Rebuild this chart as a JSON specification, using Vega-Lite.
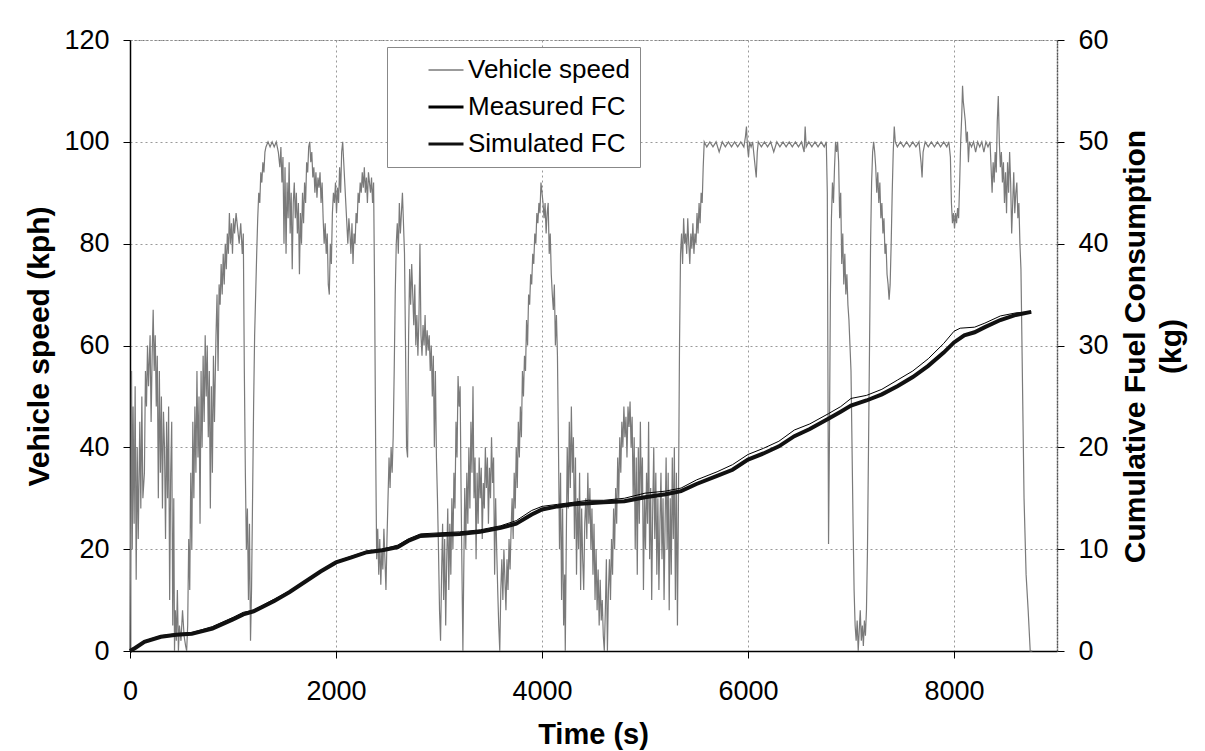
{
"$schema": "https://vega.github.io/schema/vega-lite/v6.json",
"width": 927, "height": 611,
"autosize": {"type": "none"},
"padding": {"left": 130, "top": 40, "right": 148, "bottom": 100},
"background": "white",
"config": {"font": "Liberation Sans", "view": {"stroke": "#777", "strokeDash": [2,2], "strokeWidth": 1}},
"datasets": {
"speed": [
{"t":0,"v":0},{"t":8,"v":30},{"t":15,"v":55},{"t":22,"v":20},{"t":30,"v":48},{"t":40,"v":25},{"t":50,"v":52},{"t":60,"v":14},{"t":70,"v":40},{"t":80,"v":22},{"t":95,"v":45},{"t":105,"v":28},{"t":115,"v":50},{"t":125,"v":30},{"t":140,"v":35},{"t":150,"v":55},{"t":160,"v":48},{"t":170,"v":60},{"t":180,"v":52},{"t":195,"v":62},{"t":205,"v":45},{"t":215,"v":58},{"t":225,"v":67},{"t":235,"v":55},{"t":245,"v":62},{"t":255,"v":48},{"t":265,"v":58},{"t":275,"v":30},{"t":285,"v":55},{"t":295,"v":35},{"t":305,"v":50},{"t":315,"v":28},{"t":325,"v":47},{"t":335,"v":40},{"t":345,"v":22},{"t":355,"v":45},{"t":365,"v":30},{"t":375,"v":48},{"t":385,"v":10},{"t":395,"v":35},{"t":405,"v":45},{"t":415,"v":5},{"t":425,"v":30},{"t":432,"v":0},{"t":440,"v":8},{"t":450,"v":2},{"t":460,"v":12},{"t":470,"v":0},{"t":480,"v":5},{"t":495,"v":2},{"t":510,"v":8},{"t":525,"v":3},{"t":540,"v":1},{"t":550,"v":0},{"t":560,"v":5},{"t":570,"v":22},{"t":580,"v":12},{"t":590,"v":35},{"t":600,"v":20},{"t":610,"v":45},{"t":620,"v":30},{"t":630,"v":48},{"t":640,"v":35},{"t":650,"v":55},{"t":660,"v":38},{"t":670,"v":50},{"t":680,"v":25},{"t":690,"v":55},{"t":700,"v":40},{"t":710,"v":58},{"t":720,"v":45},{"t":730,"v":62},{"t":740,"v":50},{"t":750,"v":60},{"t":760,"v":42},{"t":770,"v":55},{"t":780,"v":28},{"t":790,"v":52},{"t":800,"v":35},{"t":810,"v":58},{"t":820,"v":45},{"t":835,"v":62},{"t":845,"v":70},{"t":855,"v":55},{"t":865,"v":72},{"t":875,"v":68},{"t":885,"v":76},{"t":895,"v":70},{"t":905,"v":78},{"t":915,"v":72},{"t":925,"v":80},{"t":935,"v":75},{"t":945,"v":82},{"t":955,"v":78},{"t":965,"v":86},{"t":975,"v":80},{"t":985,"v":84},{"t":995,"v":78},{"t":1005,"v":85},{"t":1015,"v":82},{"t":1030,"v":86},{"t":1045,"v":83},{"t":1060,"v":80},{"t":1075,"v":84},{"t":1090,"v":78},{"t":1100,"v":82},{"t":1110,"v":55},{"t":1120,"v":35},{"t":1130,"v":20},{"t":1140,"v":28},{"t":1150,"v":10},{"t":1160,"v":25},{"t":1170,"v":2},{"t":1180,"v":12},{"t":1190,"v":30},{"t":1200,"v":48},{"t":1210,"v":62},{"t":1220,"v":70},{"t":1230,"v":78},{"t":1240,"v":85},{"t":1250,"v":90},{"t":1260,"v":88},{"t":1270,"v":94},{"t":1280,"v":92},{"t":1290,"v":96},{"t":1300,"v":94},{"t":1310,"v":98},{"t":1320,"v":99},{"t":1340,"v":100},{"t":1360,"v":99},{"t":1380,"v":100},{"t":1400,"v":99},{"t":1420,"v":100},{"t":1440,"v":98},{"t":1455,"v":95},{"t":1465,"v":99},{"t":1475,"v":92},{"t":1485,"v":97},{"t":1495,"v":80},{"t":1505,"v":95},{"t":1515,"v":78},{"t":1525,"v":92},{"t":1535,"v":85},{"t":1545,"v":96},{"t":1555,"v":82},{"t":1565,"v":90},{"t":1575,"v":75},{"t":1585,"v":88},{"t":1595,"v":92},{"t":1605,"v":85},{"t":1615,"v":90},{"t":1625,"v":82},{"t":1635,"v":88},{"t":1645,"v":74},{"t":1655,"v":86},{"t":1665,"v":80},{"t":1675,"v":90},{"t":1685,"v":84},{"t":1695,"v":92},{"t":1705,"v":88},{"t":1715,"v":96},{"t":1725,"v":94},{"t":1735,"v":99},{"t":1745,"v":100},{"t":1755,"v":96},{"t":1765,"v":98},{"t":1775,"v":93},{"t":1785,"v":95},{"t":1795,"v":90},{"t":1805,"v":94},{"t":1815,"v":89},{"t":1825,"v":93},{"t":1835,"v":91},{"t":1845,"v":94},{"t":1855,"v":88},{"t":1865,"v":92},{"t":1875,"v":85},{"t":1885,"v":80},{"t":1895,"v":84},{"t":1905,"v":78},{"t":1915,"v":82},{"t":1925,"v":72},{"t":1935,"v":70},{"t":1945,"v":80},{"t":1955,"v":76},{"t":1965,"v":86},{"t":1975,"v":90},{"t":1985,"v":88},{"t":1995,"v":92},{"t":2005,"v":86},{"t":2015,"v":91},{"t":2025,"v":88},{"t":2035,"v":95},{"t":2045,"v":90},{"t":2055,"v":98},{"t":2065,"v":100},{"t":2075,"v":96},{"t":2085,"v":92},{"t":2095,"v":88},{"t":2105,"v":84},{"t":2115,"v":80},{"t":2125,"v":85},{"t":2135,"v":82},{"t":2145,"v":78},{"t":2155,"v":84},{"t":2165,"v":76},{"t":2175,"v":82},{"t":2185,"v":80},{"t":2195,"v":86},{"t":2205,"v":84},{"t":2215,"v":90},{"t":2225,"v":88},{"t":2235,"v":92},{"t":2245,"v":90},{"t":2255,"v":94},{"t":2265,"v":91},{"t":2275,"v":95},{"t":2285,"v":90},{"t":2295,"v":93},{"t":2305,"v":88},{"t":2315,"v":94},{"t":2325,"v":92},{"t":2335,"v":90},{"t":2345,"v":93},{"t":2355,"v":88},{"t":2365,"v":92},{"t":2375,"v":70},{"t":2385,"v":40},{"t":2395,"v":18},{"t":2405,"v":24},{"t":2415,"v":15},{"t":2425,"v":22},{"t":2435,"v":13},{"t":2445,"v":20},{"t":2455,"v":16},{"t":2465,"v":24},{"t":2475,"v":18},{"t":2485,"v":12},{"t":2495,"v":22},{"t":2505,"v":30},{"t":2515,"v":38},{"t":2525,"v":32},{"t":2535,"v":40},{"t":2545,"v":35},{"t":2555,"v":42},{"t":2565,"v":55},{"t":2575,"v":70},{"t":2585,"v":80},{"t":2595,"v":84},{"t":2605,"v":78},{"t":2615,"v":88},{"t":2625,"v":82},{"t":2635,"v":86},{"t":2645,"v":90},{"t":2655,"v":84},{"t":2665,"v":78},{"t":2675,"v":60},{"t":2685,"v":40},{"t":2695,"v":38},{"t":2705,"v":62},{"t":2715,"v":75},{"t":2725,"v":68},{"t":2735,"v":76},{"t":2745,"v":70},{"t":2755,"v":64},{"t":2765,"v":72},{"t":2775,"v":60},{"t":2785,"v":66},{"t":2795,"v":58},{"t":2805,"v":65},{"t":2815,"v":80},{"t":2825,"v":62},{"t":2835,"v":58},{"t":2845,"v":64},{"t":2855,"v":60},{"t":2865,"v":66},{"t":2875,"v":58},{"t":2885,"v":63},{"t":2895,"v":59},{"t":2905,"v":62},{"t":2915,"v":55},{"t":2925,"v":60},{"t":2935,"v":50},{"t":2945,"v":58},{"t":2955,"v":40},{"t":2965,"v":55},{"t":2975,"v":38},{"t":2985,"v":30},{"t":2995,"v":20},{"t":3005,"v":8},{"t":3015,"v":2},{"t":3025,"v":15},{"t":3035,"v":25},{"t":3045,"v":10},{"t":3055,"v":22},{"t":3065,"v":5},{"t":3075,"v":18},{"t":3085,"v":28},{"t":3095,"v":12},{"t":3105,"v":25},{"t":3115,"v":15},{"t":3125,"v":30},{"t":3135,"v":20},{"t":3145,"v":35},{"t":3155,"v":28},{"t":3165,"v":45},{"t":3175,"v":38},{"t":3185,"v":54},{"t":3195,"v":48},{"t":3205,"v":52},{"t":3215,"v":30},{"t":3225,"v":12},{"t":3232,"v":0},{"t":3240,"v":15},{"t":3250,"v":32},{"t":3260,"v":20},{"t":3270,"v":35},{"t":3280,"v":25},{"t":3290,"v":40},{"t":3300,"v":28},{"t":3310,"v":45},{"t":3320,"v":35},{"t":3330,"v":52},{"t":3340,"v":30},{"t":3350,"v":38},{"t":3360,"v":18},{"t":3370,"v":35},{"t":3380,"v":25},{"t":3390,"v":38},{"t":3400,"v":30},{"t":3410,"v":36},{"t":3420,"v":22},{"t":3430,"v":33},{"t":3440,"v":28},{"t":3450,"v":40},{"t":3460,"v":32},{"t":3470,"v":38},{"t":3480,"v":25},{"t":3490,"v":36},{"t":3500,"v":30},{"t":3510,"v":42},{"t":3520,"v":33},{"t":3530,"v":38},{"t":3540,"v":15},{"t":3550,"v":30},{"t":3560,"v":20},{"t":3570,"v":12},{"t":3580,"v":5},{"t":3590,"v":0},{"t":3600,"v":12},{"t":3610,"v":18},{"t":3620,"v":10},{"t":3630,"v":20},{"t":3640,"v":14},{"t":3650,"v":8},{"t":3660,"v":18},{"t":3670,"v":12},{"t":3680,"v":22},{"t":3690,"v":16},{"t":3700,"v":24},{"t":3710,"v":30},{"t":3720,"v":22},{"t":3730,"v":35},{"t":3740,"v":28},{"t":3750,"v":40},{"t":3760,"v":32},{"t":3770,"v":45},{"t":3780,"v":38},{"t":3790,"v":48},{"t":3800,"v":42},{"t":3810,"v":55},{"t":3820,"v":50},{"t":3830,"v":58},{"t":3840,"v":55},{"t":3850,"v":65},{"t":3860,"v":60},{"t":3870,"v":70},{"t":3880,"v":68},{"t":3890,"v":74},{"t":3900,"v":72},{"t":3910,"v":78},{"t":3920,"v":76},{"t":3930,"v":82},{"t":3940,"v":80},{"t":3950,"v":86},{"t":3960,"v":84},{"t":3970,"v":88},{"t":3980,"v":86},{"t":3990,"v":92},{"t":4000,"v":90},{"t":4010,"v":88},{"t":4020,"v":85},{"t":4030,"v":88},{"t":4040,"v":82},{"t":4050,"v":86},{"t":4060,"v":88},{"t":4070,"v":78},{"t":4080,"v":82},{"t":4090,"v":74},{"t":4100,"v":70},{"t":4110,"v":67},{"t":4120,"v":72},{"t":4130,"v":60},{"t":4140,"v":66},{"t":4150,"v":58},{"t":4160,"v":40},{"t":4170,"v":20},{"t":4180,"v":35},{"t":4190,"v":10},{"t":4200,"v":28},{"t":4210,"v":5},{"t":4220,"v":15},{"t":4226,"v":0},{"t":4235,"v":20},{"t":4245,"v":40},{"t":4255,"v":28},{"t":4265,"v":45},{"t":4275,"v":32},{"t":4285,"v":48},{"t":4295,"v":35},{"t":4305,"v":42},{"t":4315,"v":22},{"t":4325,"v":38},{"t":4335,"v":15},{"t":4345,"v":30},{"t":4355,"v":20},{"t":4365,"v":35},{"t":4375,"v":12},{"t":4385,"v":28},{"t":4395,"v":18},{"t":4405,"v":12},{"t":4415,"v":25},{"t":4425,"v":30},{"t":4435,"v":22},{"t":4445,"v":35},{"t":4455,"v":25},{"t":4465,"v":32},{"t":4475,"v":20},{"t":4485,"v":28},{"t":4495,"v":15},{"t":4505,"v":25},{"t":4515,"v":10},{"t":4525,"v":20},{"t":4535,"v":8},{"t":4545,"v":16},{"t":4555,"v":5},{"t":4565,"v":14},{"t":4575,"v":6},{"t":4585,"v":10},{"t":4595,"v":3},{"t":4605,"v":0},{"t":4615,"v":8},{"t":4625,"v":18},{"t":4635,"v":0},{"t":4645,"v":12},{"t":4655,"v":18},{"t":4665,"v":10},{"t":4675,"v":22},{"t":4685,"v":15},{"t":4695,"v":28},{"t":4705,"v":20},{"t":4715,"v":32},{"t":4725,"v":25},{"t":4735,"v":38},{"t":4745,"v":30},{"t":4755,"v":42},{"t":4765,"v":35},{"t":4775,"v":45},{"t":4785,"v":40},{"t":4795,"v":48},{"t":4805,"v":42},{"t":4815,"v":46},{"t":4825,"v":38},{"t":4835,"v":48},{"t":4845,"v":44},{"t":4855,"v":49},{"t":4865,"v":40},{"t":4875,"v":46},{"t":4885,"v":30},{"t":4895,"v":42},{"t":4905,"v":20},{"t":4915,"v":38},{"t":4925,"v":15},{"t":4935,"v":40},{"t":4945,"v":25},{"t":4955,"v":45},{"t":4965,"v":30},{"t":4975,"v":38},{"t":4985,"v":12},{"t":4995,"v":30},{"t":5005,"v":20},{"t":5015,"v":35},{"t":5025,"v":25},{"t":5035,"v":45},{"t":5045,"v":18},{"t":5055,"v":32},{"t":5065,"v":10},{"t":5075,"v":28},{"t":5085,"v":40},{"t":5095,"v":22},{"t":5105,"v":35},{"t":5115,"v":15},{"t":5125,"v":30},{"t":5135,"v":12},{"t":5145,"v":25},{"t":5155,"v":35},{"t":5165,"v":18},{"t":5175,"v":30},{"t":5185,"v":10},{"t":5195,"v":25},{"t":5205,"v":38},{"t":5215,"v":20},{"t":5225,"v":35},{"t":5235,"v":8},{"t":5245,"v":30},{"t":5255,"v":15},{"t":5265,"v":38},{"t":5275,"v":22},{"t":5285,"v":40},{"t":5295,"v":10},{"t":5305,"v":35},{"t":5315,"v":5},{"t":5325,"v":30},{"t":5335,"v":60},{"t":5345,"v":78},{"t":5355,"v":82},{"t":5365,"v":76},{"t":5375,"v":85},{"t":5385,"v":80},{"t":5395,"v":82},{"t":5405,"v":78},{"t":5415,"v":85},{"t":5425,"v":80},{"t":5435,"v":76},{"t":5445,"v":82},{"t":5455,"v":79},{"t":5465,"v":84},{"t":5475,"v":78},{"t":5485,"v":82},{"t":5495,"v":80},{"t":5505,"v":86},{"t":5515,"v":82},{"t":5525,"v":88},{"t":5535,"v":84},{"t":5545,"v":90},{"t":5555,"v":88},{"t":5565,"v":95},{"t":5575,"v":100},{"t":5600,"v":99},{"t":5630,"v":100},{"t":5660,"v":99},{"t":5690,"v":100},{"t":5720,"v":98},{"t":5750,"v":100},{"t":5780,"v":99},{"t":5810,"v":100},{"t":5840,"v":99},{"t":5870,"v":100},{"t":5900,"v":99},{"t":5930,"v":100},{"t":5960,"v":99},{"t":5975,"v":101},{"t":5985,"v":103},{"t":5995,"v":99},{"t":6005,"v":97},{"t":6015,"v":100},{"t":6030,"v":99},{"t":6045,"v":100},{"t":6060,"v":97},{"t":6070,"v":95},{"t":6080,"v":93},{"t":6090,"v":98},{"t":6100,"v":100},{"t":6130,"v":99},{"t":6160,"v":100},{"t":6190,"v":99},{"t":6220,"v":100},{"t":6250,"v":98},{"t":6280,"v":100},{"t":6310,"v":99},{"t":6340,"v":100},{"t":6370,"v":99},{"t":6400,"v":100},{"t":6430,"v":99},{"t":6460,"v":100},{"t":6490,"v":99},{"t":6520,"v":100},{"t":6545,"v":98},{"t":6555,"v":103},{"t":6565,"v":99},{"t":6590,"v":100},{"t":6620,"v":99},{"t":6650,"v":100},{"t":6680,"v":99},{"t":6710,"v":100},{"t":6740,"v":99},{"t":6760,"v":100},{"t":6770,"v":90},{"t":6775,"v":60},{"t":6782,"v":21},{"t":6790,"v":40},{"t":6800,"v":70},{"t":6810,"v":85},{"t":6820,"v":92},{"t":6830,"v":88},{"t":6840,"v":95},{"t":6850,"v":100},{"t":6860,"v":98},{"t":6870,"v":100},{"t":6880,"v":96},{"t":6890,"v":85},{"t":6900,"v":90},{"t":6910,"v":76},{"t":6920,"v":82},{"t":6930,"v":72},{"t":6940,"v":78},{"t":6950,"v":70},{"t":6960,"v":74},{"t":6970,"v":68},{"t":6980,"v":65},{"t":6990,"v":60},{"t":7000,"v":55},{"t":7010,"v":40},{"t":7020,"v":25},{"t":7030,"v":12},{"t":7040,"v":5},{"t":7050,"v":2},{"t":7060,"v":6},{"t":7070,"v":0},{"t":7080,"v":4},{"t":7090,"v":8},{"t":7100,"v":2},{"t":7110,"v":5},{"t":7120,"v":1},{"t":7130,"v":6},{"t":7140,"v":3},{"t":7150,"v":8},{"t":7160,"v":20},{"t":7170,"v":40},{"t":7180,"v":60},{"t":7190,"v":80},{"t":7200,"v":92},{"t":7210,"v":98},{"t":7220,"v":100},{"t":7230,"v":98},{"t":7240,"v":95},{"t":7250,"v":90},{"t":7260,"v":94},{"t":7270,"v":88},{"t":7280,"v":92},{"t":7290,"v":85},{"t":7300,"v":88},{"t":7310,"v":82},{"t":7320,"v":85},{"t":7330,"v":78},{"t":7340,"v":80},{"t":7350,"v":74},{"t":7360,"v":72},{"t":7370,"v":69},{"t":7380,"v":72},{"t":7390,"v":80},{"t":7400,"v":90},{"t":7410,"v":98},{"t":7420,"v":103},{"t":7430,"v":100},{"t":7450,"v":99},{"t":7480,"v":100},{"t":7510,"v":99},{"t":7540,"v":100},{"t":7570,"v":99},{"t":7600,"v":100},{"t":7630,"v":99},{"t":7660,"v":100},{"t":7680,"v":96},{"t":7690,"v":93},{"t":7700,"v":98},{"t":7720,"v":100},{"t":7750,"v":99},{"t":7780,"v":100},{"t":7810,"v":99},{"t":7840,"v":100},{"t":7870,"v":99},{"t":7900,"v":100},{"t":7930,"v":99},{"t":7950,"v":100},{"t":7965,"v":97},{"t":7975,"v":88},{"t":7985,"v":84},{"t":7995,"v":86},{"t":8005,"v":83},{"t":8015,"v":86},{"t":8025,"v":84},{"t":8035,"v":87},{"t":8045,"v":85},{"t":8055,"v":92},{"t":8065,"v":100},{"t":8075,"v":105},{"t":8083,"v":111},{"t":8090,"v":108},{"t":8100,"v":106},{"t":8110,"v":104},{"t":8120,"v":100},{"t":8130,"v":102},{"t":8140,"v":96},{"t":8150,"v":100},{"t":8170,"v":99},{"t":8190,"v":100},{"t":8210,"v":98},{"t":8230,"v":100},{"t":8250,"v":99},{"t":8270,"v":100},{"t":8290,"v":98},{"t":8310,"v":100},{"t":8330,"v":99},{"t":8350,"v":100},{"t":8360,"v":95},{"t":8370,"v":90},{"t":8380,"v":96},{"t":8390,"v":92},{"t":8400,"v":98},{"t":8410,"v":94},{"t":8420,"v":104},{"t":8430,"v":109},{"t":8440,"v":100},{"t":8450,"v":95},{"t":8460,"v":98},{"t":8470,"v":92},{"t":8480,"v":96},{"t":8490,"v":88},{"t":8500,"v":94},{"t":8510,"v":86},{"t":8520,"v":96},{"t":8530,"v":90},{"t":8540,"v":98},{"t":8550,"v":92},{"t":8560,"v":82},{"t":8570,"v":88},{"t":8580,"v":94},{"t":8590,"v":86},{"t":8600,"v":90},{"t":8610,"v":92},{"t":8620,"v":85},{"t":8630,"v":88},{"t":8640,"v":80},{"t":8650,"v":75},{"t":8660,"v":60},{"t":8670,"v":45},{"t":8680,"v":30},{"t":8700,"v":15},{"t":8720,"v":8},{"t":8740,"v":0},{"t":8760,"v":0}
],
"fc": [
{"t":0,"kg":0,"series":"Measured FC"},{"t":50,"kg":0.4,"series":"Measured FC"},{"t":140,"kg":1.0,"series":"Measured FC"},{"t":300,"kg":1.5,"series":"Measured FC"},{"t":450,"kg":1.7,"series":"Measured FC"},{"t":600,"kg":1.8,"series":"Measured FC"},{"t":800,"kg":2.4,"series":"Measured FC"},{"t":1000,"kg":3.3,"series":"Measured FC"},{"t":1100,"kg":3.8,"series":"Measured FC"},{"t":1200,"kg":4.0,"series":"Measured FC"},{"t":1400,"kg":5.1,"series":"Measured FC"},{"t":1550,"kg":5.9,"series":"Measured FC"},{"t":1700,"kg":6.9,"series":"Measured FC"},{"t":1850,"kg":7.9,"series":"Measured FC"},{"t":2000,"kg":8.8,"series":"Measured FC"},{"t":2150,"kg":9.3,"series":"Measured FC"},{"t":2300,"kg":9.8,"series":"Measured FC"},{"t":2450,"kg":10.0,"series":"Measured FC"},{"t":2600,"kg":10.4,"series":"Measured FC"},{"t":2700,"kg":11.0,"series":"Measured FC"},{"t":2820,"kg":11.5,"series":"Measured FC"},{"t":3000,"kg":11.6,"series":"Measured FC"},{"t":3200,"kg":11.7,"series":"Measured FC"},{"t":3400,"kg":11.9,"series":"Measured FC"},{"t":3600,"kg":12.3,"series":"Measured FC"},{"t":3750,"kg":12.8,"series":"Measured FC"},{"t":3900,"kg":13.8,"series":"Measured FC"},{"t":4000,"kg":14.2,"series":"Measured FC"},{"t":4150,"kg":14.4,"series":"Measured FC"},{"t":4300,"kg":14.6,"series":"Measured FC"},{"t":4450,"kg":14.8,"series":"Measured FC"},{"t":4600,"kg":14.8,"series":"Measured FC"},{"t":4800,"kg":15.0,"series":"Measured FC"},{"t":5000,"kg":15.5,"series":"Measured FC"},{"t":5200,"kg":15.7,"series":"Measured FC"},{"t":5350,"kg":16.0,"series":"Measured FC"},{"t":5500,"kg":16.8,"series":"Measured FC"},{"t":5700,"kg":17.6,"series":"Measured FC"},{"t":5850,"kg":18.3,"series":"Measured FC"},{"t":6000,"kg":19.3,"series":"Measured FC"},{"t":6150,"kg":19.9,"series":"Measured FC"},{"t":6300,"kg":20.6,"series":"Measured FC"},{"t":6450,"kg":21.7,"series":"Measured FC"},{"t":6600,"kg":22.3,"series":"Measured FC"},{"t":6780,"kg":23.3,"series":"Measured FC"},{"t":6900,"kg":24.0,"series":"Measured FC"},{"t":7000,"kg":24.8,"series":"Measured FC"},{"t":7150,"kg":25.1,"series":"Measured FC"},{"t":7300,"kg":25.7,"series":"Measured FC"},{"t":7450,"kg":26.6,"series":"Measured FC"},{"t":7600,"kg":27.5,"series":"Measured FC"},{"t":7750,"kg":28.7,"series":"Measured FC"},{"t":7900,"kg":30.2,"series":"Measured FC"},{"t":8000,"kg":31.4,"series":"Measured FC"},{"t":8060,"kg":31.7,"series":"Measured FC"},{"t":8200,"kg":31.8,"series":"Measured FC"},{"t":8300,"kg":32.2,"series":"Measured FC"},{"t":8450,"kg":32.9,"series":"Measured FC"},{"t":8600,"kg":33.2,"series":"Measured FC"},{"t":8750,"kg":33.3,"series":"Measured FC"},
{"t":0,"kg":0,"series":"Simulated FC"},{"t":50,"kg":0.3,"series":"Simulated FC"},{"t":140,"kg":0.9,"series":"Simulated FC"},{"t":300,"kg":1.4,"series":"Simulated FC"},{"t":450,"kg":1.6,"series":"Simulated FC"},{"t":600,"kg":1.7,"series":"Simulated FC"},{"t":800,"kg":2.2,"series":"Simulated FC"},{"t":1000,"kg":3.1,"series":"Simulated FC"},{"t":1100,"kg":3.6,"series":"Simulated FC"},{"t":1200,"kg":3.9,"series":"Simulated FC"},{"t":1400,"kg":4.9,"series":"Simulated FC"},{"t":1550,"kg":5.8,"series":"Simulated FC"},{"t":1700,"kg":6.8,"series":"Simulated FC"},{"t":1850,"kg":7.8,"series":"Simulated FC"},{"t":2000,"kg":8.7,"series":"Simulated FC"},{"t":2150,"kg":9.2,"series":"Simulated FC"},{"t":2300,"kg":9.7,"series":"Simulated FC"},{"t":2450,"kg":9.9,"series":"Simulated FC"},{"t":2600,"kg":10.2,"series":"Simulated FC"},{"t":2700,"kg":10.8,"series":"Simulated FC"},{"t":2820,"kg":11.3,"series":"Simulated FC"},{"t":3000,"kg":11.4,"series":"Simulated FC"},{"t":3200,"kg":11.5,"series":"Simulated FC"},{"t":3400,"kg":11.7,"series":"Simulated FC"},{"t":3600,"kg":12.1,"series":"Simulated FC"},{"t":3750,"kg":12.5,"series":"Simulated FC"},{"t":3900,"kg":13.4,"series":"Simulated FC"},{"t":4000,"kg":13.9,"series":"Simulated FC"},{"t":4150,"kg":14.2,"series":"Simulated FC"},{"t":4300,"kg":14.4,"series":"Simulated FC"},{"t":4450,"kg":14.5,"series":"Simulated FC"},{"t":4600,"kg":14.6,"series":"Simulated FC"},{"t":4800,"kg":14.7,"series":"Simulated FC"},{"t":5000,"kg":15.1,"series":"Simulated FC"},{"t":5200,"kg":15.4,"series":"Simulated FC"},{"t":5350,"kg":15.7,"series":"Simulated FC"},{"t":5500,"kg":16.4,"series":"Simulated FC"},{"t":5700,"kg":17.2,"series":"Simulated FC"},{"t":5850,"kg":17.8,"series":"Simulated FC"},{"t":6000,"kg":18.8,"series":"Simulated FC"},{"t":6150,"kg":19.4,"series":"Simulated FC"},{"t":6300,"kg":20.1,"series":"Simulated FC"},{"t":6450,"kg":21.1,"series":"Simulated FC"},{"t":6600,"kg":21.8,"series":"Simulated FC"},{"t":6780,"kg":22.8,"series":"Simulated FC"},{"t":6900,"kg":23.5,"series":"Simulated FC"},{"t":7000,"kg":24.1,"series":"Simulated FC"},{"t":7150,"kg":24.6,"series":"Simulated FC"},{"t":7300,"kg":25.2,"series":"Simulated FC"},{"t":7450,"kg":26.0,"series":"Simulated FC"},{"t":7600,"kg":26.9,"series":"Simulated FC"},{"t":7750,"kg":28.0,"series":"Simulated FC"},{"t":7900,"kg":29.3,"series":"Simulated FC"},{"t":8000,"kg":30.3,"series":"Simulated FC"},{"t":8100,"kg":31.0,"series":"Simulated FC"},{"t":8200,"kg":31.3,"series":"Simulated FC"},{"t":8300,"kg":31.8,"series":"Simulated FC"},{"t":8450,"kg":32.5,"series":"Simulated FC"},{"t":8600,"kg":33.0,"series":"Simulated FC"},{"t":8750,"kg":33.3,"series":"Simulated FC"}
]
},
"encoding": {
"x": {"field": "t", "type": "quantitative", "scale": {"domain": [0, 9000], "nice": false},
"axis": {"values": [0, 2000, 4000, 6000, 8000], "title": "Time (s)", "format": "d", "labelFlush": false, "labelOverlap": false,
"labelFontSize": 27, "labelColor": "black", "labelFont": "Liberation Sans", "labelPadding": 20,
"tickColor": "black", "tickSize": 7, "domainColor": "black", "domainWidth": 1.5,
"titleFontSize": 29, "titleFont": "Liberation Sans", "titleFontWeight": "bold", "titleColor": "black",
"titleX": 463, "titleY": 92, "titleBaseline": "alphabetic", "titleAlign": "center",
"grid": true, "gridColor": "#999", "gridDash": [2, 3], "gridWidth": 1}}
},
"layer": [
{"data": {"name": "speed"},
"mark": {"type": "line", "strokeJoin": "miter"},
"encoding": {
"y": {"field": "v", "type": "quantitative", "scale": {"domain": [0, 120], "nice": false},
"axis": {"values": [0, 20, 40, 60, 80, 100, 120], "title": "Vehicle speed (kph)", "labelFlush": false, "labelOverlap": false,
"labelFontSize": 27, "labelColor": "black", "labelFont": "Liberation Sans", "labelPadding": 14,
"tickColor": "black", "tickSize": 7, "domainColor": "black", "domainWidth": 1.5,
"titleFontSize": 30, "titleFont": "Liberation Sans", "titleFontWeight": "bold", "titleColor": "black",
"titleX": -91, "titleY": 306, "titleAngle": 270, "titleAlign": "center", "titleBaseline": "middle",
"grid": true, "gridColor": "#999", "gridDash": [2, 3], "gridWidth": 1}},
"color": {"datum": "Vehicle speed", "type": "nominal",
"scale": {"domain": ["Vehicle speed", "Measured FC", "Simulated FC"], "range": ["#7a7a7a", "#000000", "#111111"]},
"legend": {"title": null, "orient": "none", "legendX": 257, "legendY": 7, "direction": "vertical",
"symbolType": "stroke", "symbolSize": 1225, "labelFontSize": 26, "labelColor": "black", "labelFont": "Liberation Sans", "labelLimit": 400,
"padding": 10, "symbolOffset": 36, "labelOffset": 9, "rowPadding": 11,
"fillColor": "white", "strokeColor": "#888",
"encode": {"symbols": {"update": {"strokeWidth": {"signal": "datum.value === 'Vehicle speed' ? 1.5 : 3.2"}}}}}},
"strokeWidth": {"datum": "Vehicle speed", "type": "ordinal",
"scale": {"type": "ordinal", "domain": ["Vehicle speed", "Measured FC", "Simulated FC"], "range": [1.2, 3, 2.6]},
"legend": null}
}},
{"data": {"name": "fc"},
"mark": {"type": "line"},
"encoding": {
"y": {"field": "kg", "type": "quantitative", "scale": {"domain": [0, 60], "nice": false},
"axis": {"orient": "right", "values": [0, 10, 20, 30, 40, 50, 60], "title": ["Cumulative Fuel Consumption", "(kg)"], "labelFlush": false, "labelOverlap": false,
"labelFontSize": 27, "labelColor": "black", "labelFont": "Liberation Sans", "labelPadding": 14,
"tickColor": "black", "tickSize": 7, "domainColor": "#555", "domainDash": [2, 1], "domainWidth": 1.5,
"titleFontSize": 30, "titleFont": "Liberation Sans", "titleFontWeight": "bold", "titleColor": "black",
"titleX": 78, "titleY": 306, "titleAngle": 270, "titleAlign": "center", "titleBaseline": "middle", "titleLineHeight": 36,
"grid": false}},
"color": {"field": "series", "type": "nominal", "legend": {"title": null}},
"strokeWidth": {"field": "series", "type": "ordinal", "legend": null}
}}
],
"resolve": {"scale": {"y": "independent"}}
}
